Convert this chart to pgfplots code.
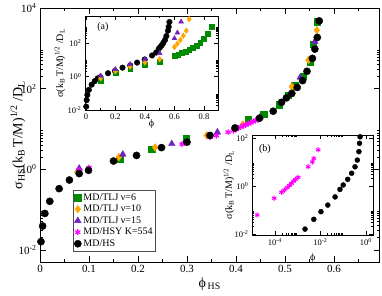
\documentclass[border=0pt]{standalone}
\usepackage{fontspec}
\setmainfont{Liberation Serif}
\usepackage{pgfplots}
\pgfplotsset{compat=1.18}
\definecolor{cgreen}{RGB}{0,139,0}
\definecolor{corange}{RGB}{255,165,0}
\definecolor{cpurple}{RGB}{114,33,188}
\definecolor{cmag}{RGB}{255,0,255}
\pgfplotsset{
  base/.style={scale only axis, anchor=south west, axis background/.style={fill=white},
    axis line style={line width=0.6pt}, every tick/.style={line width=0.6pt, black},
    tick align=inside},
  inset/.style={base, tick label style={font=\fontsize{8.5}{8.5}\selectfont},
    label style={font=\fontsize{8}{8}\selectfont},
    major tick length=4pt, minor tick length=2pt},
}
\begin{document}
\begin{tikzpicture}
\useasboundingbox (0,0) rectangle (382pt,296pt);
% ---------------- main axis ----------------
\begin{axis}[base, at={(40pt,34pt)}, width=339.5pt, height=254pt,
  xmin=0, xmax=0.693, ymode=log, ymin=0.005, ymax=1e4,
  xtick={0,0.1,0.2,0.3,0.4,0.5,0.6}, xticklabels={0,0.1,0.2,0.3,0.4,0.5,0.6},
  minor xtick={0.05,0.15,0.25,0.35,0.45,0.55,0.65},
  ytick={1e-2,1,1e2,1e4},
  yticklabels={10\textsuperscript{-2},10\textsuperscript{0},10\textsuperscript{2},10\textsuperscript{4}},
  minor ytick={0.02,0.03,0.04,0.05,0.06,0.07,0.08,0.09,2,3,4,5,6,7,8,9,200,300,400,500,600,700,800,900},
  major tick length=6pt, minor tick length=3pt,
  tick label style={font=\fontsize{11}{11}\selectfont},
  xlabel={\fontsize{14}{14}\selectfont ϕ\textsubscript{\,HS}},
  ylabel={\fontsize{14}{14}\selectfont σ\textsubscript{HS}(k\textsubscript{B}\,T/M)\textsuperscript{1/2} /D\textsubscript{L}},
  every axis x label/.style={at={(axis description cs:0.5,-0.0866)}, anchor=center},
  every axis y label/.style={at={(axis description cs:-0.0648,0.5)}, anchor=center, rotate=90},
  legend style={at={(axis description cs:0.0972,0.0433)}, anchor=south west,
    draw=black!70, font=\fontsize{10}{10}\selectfont, inner sep=1pt, row sep=-0.6pt,
    cells={anchor=west}},
  legend cell align=left,
]
\addplot[only marks, mark=square*, mark size=3.2pt, color=cgreen] coordinates {
(0.163,1.78) (0.228,3.09) (0.298,5.75) (0.425,17.0) (0.457,22.9) (0.488,39.8)
(0.507,67.6) (0.520,117) (0.537,200) (0.551,447) (0.558,1259) (0.566,4571)};
\addlegendentry{MD/TLJ ν=6}
\addplot[only marks, mark=diamond*, mark size=3.8pt, color=corange] coordinates {
(0.076,0.85) (0.161,2.0) (0.235,3.47) (0.340,6.9) (0.414,12.9) (0.514,112)
(0.548,513) (0.565,2818)};
\addlegendentry{MD/TLJ ν=10}
\addplot[only marks, mark=triangle*, mark size=3.8pt, color=cpurple] coordinates {
(0.080,1.05) (0.169,2.34) (0.269,4.27) (0.362,8.3) (0.449,19.5) (0.531,190) (0.561,1479)};
\addlegendentry{MD/TLJ ν=15}
\addplot[only marks, mark=asterisk, mark size=3pt, line width=1.2pt, color=cmag] coordinates {
(0.080,0.95) (0.100,1.10) (0.290,4.2) (0.347,6.3) (0.360,6.8) (0.384,8.3) (0.395,9.1)
(0.400,9.8) (0.405,10.5) (0.410,11.2) (0.415,12.0) (0.420,12.6) (0.425,13.5)
(0.430,14.4) (0.435,15.3) (0.440,16.2) (0.445,17.0)};
\addlegendentry{MD/HSY K=554}
\addplot[only marks, mark=*, mark size=3.6pt, color=black] coordinates {
(0.002,0.016) (0.0054,0.039) (0.010,0.08) (0.020,0.16) (0.039,0.33) (0.060,0.54)
(0.080,0.78) (0.099,0.94) (0.150,1.6) (0.197,2.2) (0.248,3.44) (0.300,4.7)
(0.347,6.9) (0.398,10.6) (0.448,18.5) (0.476,27.5) (0.493,45.7) (0.503,58.9)
(0.514,75.9) (0.525,107) (0.536,158) (0.545,269) (0.556,562) (0.561,955)
(0.566,1862) (0.570,4786)};
\addlegendentry{MD/HS}
\end{axis}
% ---------------- inset (a) ----------------
\begin{axis}[inset, at={(85pt,186pt)}, width=133pt, height=93.5pt,
  xmin=-0.006, xmax=0.895, ymode=log, ymin=0.01, ymax=4000,
  xtick={0,0.2,0.4,0.6,0.8}, xticklabels={0,0.2,0.4,0.6,0.8},
  minor xtick={0.1,0.3,0.5,0.7},
  ytick={1e-2,1,1e2}, yticklabels={10\textsuperscript{-2},10\textsuperscript{0},10\textsuperscript{2}},
  minor ytick={0.02,0.03,0.04,0.05,0.06,0.07,0.08,0.09,2,3,4,5,6,7,8,9,200,300,400,500,600,700,800,900},
  xlabel={ϕ},
  ylabel={σ(k\textsubscript{B}\,T/M)\textsuperscript{1/2} /D\textsubscript{L}},
  every axis x label/.style={at={(axis description cs:0.5,-0.15)}, anchor=center},
  every axis y label/.style={at={(axis description cs:-0.188,0.5)}, anchor=center, rotate=90},
]
\addplot[only marks, mark=*, mark size=2.8pt, color=black] coordinates {
(0.002,0.016) (0.0054,0.039) (0.010,0.08) (0.020,0.16) (0.039,0.33) (0.060,0.54)
(0.080,0.78) (0.099,0.94) (0.150,1.6) (0.197,2.2) (0.248,3.44) (0.300,4.7)
(0.347,6.9) (0.398,10.6) (0.448,18.5) (0.476,27.5) (0.493,45.7) (0.503,58.9)
(0.514,75.9) (0.525,107) (0.536,158) (0.545,269) (0.556,562) (0.561,955)
(0.566,1862)};
\addplot[only marks, mark=square*, mark size=2.4pt, color=cgreen] coordinates {
(0.1,0.56) (0.2,1.7) (0.3,2.75) (0.4,4.9) (0.5,7.8) (0.6,17.8) (0.625,21.4)
(0.65,26.3) (0.675,32.4) (0.7,40.7) (0.725,52.5) (0.75,70.8) (0.775,105)
(0.8,178) (0.825,355) (0.85,1000)};
\addplot[only marks, mark=diamond*, mark size=2.8pt, color=corange] coordinates {
(0.1,0.79) (0.2,2.1) (0.3,4.0) (0.4,7.1) (0.5,11.0) (0.6,60) (0.62,95) (0.64,158)
(0.66,282) (0.68,562) (0.7,2800)};
\addplot[only marks, mark=triangle*, mark size=2.8pt, color=cpurple] coordinates {
(0.1,1.12) (0.2,2.75) (0.3,5.5) (0.4,11.0) (0.5,25.1) (0.6,195) (0.62,427) (0.645,1950)};
\node[font=\fontsize{10}{10}\selectfont] at (axis description cs:0.135,0.888) {(a)};
\end{axis}
% ---------------- inset (b) ----------------
\begin{axis}[inset, at={(252pt,61pt)}, width=121.3pt, height=100pt,
  xmode=log, ymode=log, xmin=9.8e-6, xmax=2.1, ymin=0.0091, ymax=133,
  xtick={1e-4,1e-2,1}, xticklabels={10\textsuperscript{-4},10\textsuperscript{-2},10\textsuperscript{0}},
  minor xtick={2e-4,3e-4,4e-4,5e-4,6e-4,7e-4,8e-4,9e-4,0.02,0.03,0.04,0.05,0.06,0.07,0.08,0.09},
  ytick={1e-2,1,1e2}, yticklabels={10\textsuperscript{-2},10\textsuperscript{0},10\textsuperscript{2}},
  minor ytick={0.02,0.03,0.04,0.05,0.06,0.07,0.08,0.09,2,3,4,5,6,7,8,9},
  xlabel={ϕ},
  ylabel={σ(k\textsubscript{B}\,T/M)\textsuperscript{1/2} /D\textsubscript{L}},
  every axis x label/.style={at={(axis description cs:0.5,-0.23)}, anchor=center},
  every axis y label/.style={at={(axis description cs:-0.19,0.5)}, anchor=center, rotate=90},
]
\addplot[only marks, mark=asterisk, mark size=2.6pt, line width=1pt, color=cmag] coordinates {
(1.66e-5,0.062) (9.3e-5,0.31) (1.95e-4,0.55) (2.6e-4,0.68) (3.4e-4,0.85) (4.3e-4,1.05)
(5.4e-4,1.30) (6.6e-4,1.6) (8.0e-4,1.9) (1.05e-3,2.3) (2.9e-3,6.3) (4.4e-3,10)
(5.1e-3,14) (7.9e-3,32)};
\addplot[only marks, mark=*, mark size=2.5pt, color=black] coordinates {
(2.1e-3,0.016) (5.1e-3,0.041) (0.0105,0.085) (0.021,0.16) (0.044,0.35) (0.072,0.72)
(0.1,1.1) (0.158,1.9) (0.234,3.4) (0.33,6.3) (0.417,12) (0.49,27) (0.52,60) (0.55,112)};
\node[font=\fontsize{10}{10}\selectfont] at (axis description cs:0.107,0.86) {(b)};
\end{axis}
\end{tikzpicture}
\end{document}
